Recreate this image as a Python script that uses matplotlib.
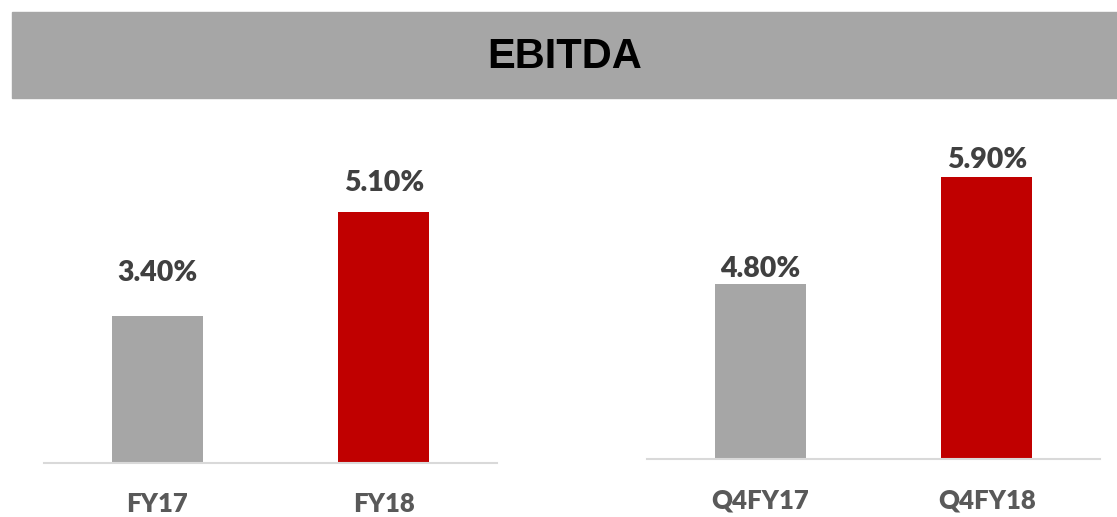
import matplotlib
matplotlib.use("Agg")
import matplotlib.pyplot as plt
from matplotlib.patches import Rectangle

title = "EBITDA"
year_labels = ["FY17", "FY18"]
year_values = [3.40, 5.10]
quarter_labels = ["Q4FY17", "Q4FY18"]
quarter_values = [4.80, 5.90]

GREY = "#A6A6A6"
RED = "#C00000"
W, H = 1117, 517

plt.rcParams['font.family'] = ['Lato', 'DejaVu Sans']

fig = plt.figure(figsize=(W / 100, H / 100), dpi=100)

# title banner
fig.patches.append(Rectangle((12 / W, 1 - 98 / H), 1 - 12 / W, 86 / H,
                             transform=fig.transFigure, color=GREY, zorder=0))
fig.text(565 / W, 1 - 57 / H, title, ha='center', va='center',
         fontsize=30, fontweight='bold', family='Liberation Sans', color='black')


def panel(x0, x1, base_px, ylo, yhi, labels, values, gaps):
    top_px = 110
    ax = fig.add_axes([x0 / W, 1 - base_px / H, (x1 - x0) / W, (base_px - top_px) / H])
    ax.bar(range(len(values)), values, width=0.4, color=[GREY, RED], bottom=0)
    ax.set_xlim(-0.5, 1.5)
    ax.set_ylim(ylo, yhi)
    for s in ['top', 'left', 'right']:
        ax.spines[s].set_visible(False)
    ax.spines['bottom'].set_color('#D9D9D9')
    ax.spines['bottom'].set_linewidth(1.5)
    ax.set_yticks([])
    ax.set_xticks(range(len(labels)))
    ax.set_xticklabels(labels, fontsize=18.5, fontweight='heavy', color='#595959')
    ax.tick_params(axis='x', length=0, pad=21)
    for i, v in enumerate(values):
        ax.annotate(f"{v:.2f}%", (i, v), xytext=(0, gaps[i]), textcoords='offset points',
                    ha='center', va='baseline', fontsize=20.5, fontweight='heavy',
                    color='#404040')
    return ax


panel(44, 497, 463, 1.0, 1.0 + 353 / 61.18, year_labels, year_values, [25, 15])
panel(647, 1100, 459, 3.0, 3.0 + 349 / 97.27, quarter_labels, quarter_values, [5, 6.5])

fig.savefig("out.png", dpi=100)
